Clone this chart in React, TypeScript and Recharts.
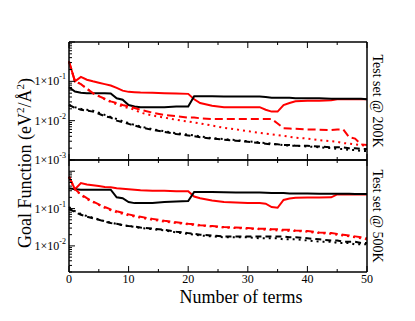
import React from 'react';
import { LineChart, Line, XAxis, YAxis } from 'recharts';

const FONT = "'Liberation Serif', 'DejaVu Serif', serif";

// number of terms (shared x grid)
const terms = [0, 1, 2, 3, 4, 5, 6, 7, 8, 9, 10, 11, 12, 14, 16, 18, 20, 21, 22, 24, 26, 28, 30, 32, 33, 34, 35, 36, 37, 38, 40, 42, 44, 45, 46, 47, 48, 49, 50];

// Test set @ 200K
const redSolid200 = [0.32, 0.1, 0.13, 0.11, 0.1, 0.092, 0.085, 0.078, 0.068, 0.058, 0.054, 0.053, 0.052, 0.051, 0.05, 0.049, 0.048, 0.035, 0.028, 0.024, 0.022, 0.022, 0.022, 0.022, 0.019, 0.017, 0.017, 0.025, 0.028, 0.031, 0.032, 0.032, 0.033, 0.035, 0.035, 0.035, 0.035, 0.035, 0.035];
const blackSolid200 = [0.071, 0.055, 0.051, 0.05, 0.05, 0.05, 0.05, 0.049, 0.037, 0.034, 0.025, 0.023, 0.022, 0.022, 0.022, 0.023, 0.023, 0.042, 0.042, 0.042, 0.041, 0.041, 0.041, 0.041, 0.04, 0.038, 0.038, 0.038, 0.038, 0.037, 0.037, 0.037, 0.036, 0.036, 0.036, 0.036, 0.036, 0.036, 0.035];
const redDashed200 = [0.32, 0.1, 0.085, 0.065, 0.05, 0.042, 0.036, 0.031, 0.028, 0.025, 0.023, 0.021, 0.019, 0.016, 0.014, 0.013, 0.012, 0.012, 0.0115, 0.011, 0.011, 0.011, 0.011, 0.011, 0.011, 0.011, 0.0085, 0.0064, 0.0063, 0.0062, 0.006, 0.0059, 0.0058, 0.006, 0.006, 0.0038, 0.0035, 0.0025, 0.0024];
const redDotted200 = [0.32, 0.1, 0.085, 0.065, 0.05, 0.042, 0.035, 0.03, 0.026, 0.023, 0.021, 0.019, 0.016, 0.0135, 0.012, 0.0105, 0.0095, 0.009, 0.0085, 0.0075, 0.0066, 0.006, 0.0054, 0.0049, 0.0047, 0.0045, 0.0043, 0.0041, 0.0039, 0.0037, 0.0035, 0.0032, 0.003, 0.0029, 0.0027, 0.0026, 0.0025, 0.0024, 0.0023];
const blackDashed200 = [0.025, 0.021, 0.019, 0.018, 0.017, 0.015, 0.013, 0.012, 0.01, 0.0092, 0.0083, 0.0075, 0.0068, 0.0058, 0.0052, 0.0046, 0.0042, 0.004, 0.0038, 0.0035, 0.0033, 0.0031, 0.0029, 0.0027, 0.0026, 0.0025, 0.0025, 0.0024, 0.0024, 0.0023, 0.0023, 0.0022, 0.0021, 0.0021, 0.0021, 0.002, 0.002, 0.0019, 0.0019];
const blackDotted200 = [0.025, 0.022, 0.02, 0.019, 0.018, 0.016, 0.014, 0.0125, 0.011, 0.0097, 0.0087, 0.0078, 0.0071, 0.0061, 0.0054, 0.0048, 0.0044, 0.0042, 0.004, 0.0036, 0.0034, 0.0032, 0.003, 0.0028, 0.0027, 0.0026, 0.0025, 0.0024, 0.0023, 0.0023, 0.0022, 0.0021, 0.002, 0.0019, 0.0019, 0.0018, 0.0018, 0.0017, 0.0017];

// Test set @ 500K
const redSolid500 = [0.71, 0.33, 0.48, 0.44, 0.42, 0.4, 0.38, 0.37, 0.35, 0.34, 0.33, 0.32, 0.31, 0.3, 0.3, 0.29, 0.29, 0.21, 0.19, 0.165, 0.15, 0.145, 0.14, 0.14, 0.135, 0.11, 0.105, 0.17, 0.185, 0.195, 0.197, 0.198, 0.2, 0.24, 0.24, 0.24, 0.24, 0.24, 0.24];
const blackSolid500 = [0.35, 0.33, 0.32, 0.32, 0.32, 0.32, 0.32, 0.32, 0.2, 0.19, 0.15, 0.14, 0.14, 0.14, 0.15, 0.155, 0.16, 0.28, 0.28, 0.28, 0.275, 0.27, 0.27, 0.27, 0.265, 0.26, 0.26, 0.26, 0.255, 0.255, 0.255, 0.25, 0.25, 0.25, 0.25, 0.248, 0.246, 0.245, 0.245];
const redDashed500 = [0.71, 0.33, 0.24, 0.19, 0.155, 0.13, 0.11, 0.095, 0.085, 0.077, 0.07, 0.064, 0.06, 0.053, 0.047, 0.043, 0.039, 0.038, 0.036, 0.034, 0.032, 0.031, 0.03, 0.029, 0.029, 0.028, 0.028, 0.027, 0.027, 0.026, 0.025, 0.023, 0.022, 0.021, 0.02, 0.019, 0.018, 0.017, 0.016];
const redDotted500 = [0.71, 0.33, 0.23, 0.18, 0.15, 0.125, 0.105, 0.09, 0.08, 0.073, 0.066, 0.061, 0.057, 0.05, 0.045, 0.041, 0.038, 0.036, 0.035, 0.033, 0.031, 0.03, 0.029, 0.028, 0.027, 0.027, 0.026, 0.026, 0.025, 0.025, 0.024, 0.022, 0.021, 0.02, 0.019, 0.018, 0.017, 0.016, 0.015];
const blackDashed500 = [0.1, 0.08, 0.068, 0.061, 0.055, 0.05, 0.045, 0.041, 0.039, 0.036, 0.034, 0.033, 0.031, 0.029, 0.027, 0.024, 0.022, 0.021, 0.02, 0.019, 0.018, 0.018, 0.018, 0.018, 0.018, 0.018, 0.018, 0.018, 0.017, 0.017, 0.016, 0.015, 0.014, 0.014, 0.013, 0.013, 0.013, 0.012, 0.012];
const blackDotted500 = [0.11, 0.085, 0.072, 0.063, 0.057, 0.051, 0.046, 0.042, 0.039, 0.036, 0.034, 0.032, 0.03, 0.028, 0.026, 0.023, 0.021, 0.02, 0.019, 0.018, 0.017, 0.017, 0.017, 0.016, 0.016, 0.016, 0.016, 0.015, 0.015, 0.015, 0.014, 0.013, 0.013, 0.012, 0.012, 0.012, 0.011, 0.011, 0.011];

// axes
const xTicks = [0, 5, 10, 15, 20, 25, 30, 35, 40, 45, 50];
const decades = [0.001, 0.01, 0.1, 1];
const minorSteps = [1, 2, 3, 4, 5, 6, 7, 8, 9];
const domain200: [number, number] = [0.001, 1];
const domain500: [number, number] = [0.002, 2];
const labelled200 = [-3, -2, -1];
const labelled500 = [-2, -1];

const logTicks = (lo: number, hi: number) => {
  const out: number[] = [];
  decades.forEach((d) =>
    minorSteps.forEach((m) => {
      const v = +(d * m).toPrecision(3);
      if (v >= lo - 1e-12 && v <= hi + 1e-12) out.push(v);
    })
  );
  return out;
};

const series = [
  { key: 'rs', color: '#ff0000', dash: undefined },
  { key: 'bs', color: '#000000', dash: undefined },
  { key: 'rd', color: '#ff0000', dash: '8 4' },
  { key: 'rdot', color: '#ff0000', dash: '2 4' },
  { key: 'bd', color: '#000000', dash: '6 4' },
  { key: 'bdot', color: '#000000', dash: '2 4' },
];

const rows200 = terms.map((t, i) => ({
  t,
  rs: redSolid200[i],
  bs: blackSolid200[i],
  rd: redDashed200[i],
  rdot: redDotted200[i],
  bd: blackDashed200[i],
  bdot: blackDotted200[i],
}));

const rows500 = terms.map((t, i) => ({
  t,
  rs: redSolid500[i],
  bs: blackSolid500[i],
  rd: redDashed500[i],
  rdot: redDotted500[i],
  bd: blackDashed500[i],
  bdot: blackDotted500[i],
}));

const YTick = (props: any) => {
  const { x, y, payload, labelled } = props;
  const v = payload.value;
  const lg = Math.log10(v);
  const e = Math.round(lg);
  const major = Math.abs(lg - e) < 1e-6;
  return (
    <g>
      <line x1={x} x2={x + (major ? 6 : 3)} y1={y} y2={y} stroke="#000" strokeWidth={1} />
      {major && labelled.includes(e) && (
        <text x={x - 3} y={y + 4} textAnchor="end" fontSize={12} fontFamily={FONT} fill="#000">
          1×10<tspan dy={-6} fontSize={8}>{String(e)}</tspan>
        </text>
      )}
    </g>
  );
};

const XTick = (props: any) => {
  const { x, y, payload, side, showLabel } = props;
  const v = payload.value;
  const major = v % 10 === 0;
  const dir = side === 'bottom' ? -1 : 1;
  return (
    <g>
      <line x1={x} x2={x} y1={y} y2={y + dir * (major ? 6 : 3)} stroke="#000" strokeWidth={1} />
      {showLabel && major && (
        <text x={x} y={y + 11} textAnchor="middle" fontSize={12} fontFamily={FONT} fill="#000">
          {v}
        </text>
      )}
    </g>
  );
};

const sideTitle = (text: string) => (props: any) => {
  const vb = props.viewBox;
  const cx = vb.x + 6;
  const cy = vb.y + vb.height / 2;
  return (
    <text x={cx} y={cy} transform={`rotate(90 ${cx} ${cy})`} textAnchor="middle" fontSize={14} fontFamily={FONT} fill="#000">
      {text}
    </text>
  );
};

const yTitle = () => (
  <text x={31} y={163} transform="rotate(-90 31 163)" textAnchor="middle" fontSize={18} fontFamily={FONT} fill="#000">
    Goal Function (eV<tspan dy={-7} fontSize={11}>2</tspan>
    <tspan dy={7}>/Å</tspan>
    <tspan dy={-7} fontSize={11}>2</tspan>
    <tspan dy={7}>)</tspan>
  </text>
);

const xTitle = (props: any) => {
  const vb = props.viewBox;
  return (
    <text x={vb.x + vb.width / 2 + 23} y={vb.y + 31} textAnchor="middle" fontSize={18} fontFamily={FONT} fill="#000">
      Number of terms
    </text>
  );
};

const axisLine = { stroke: '#000', strokeWidth: 1.5 };

const Panel = ({ rows, domain, labelled, margin, bottomLabels, title, yLabel }: any) => (
  <LineChart width={415} height={321} data={rows} margin={margin} style={{ position: 'absolute', left: 0, top: 0 }}>
    <XAxis
      dataKey="t"
      type="number"
      domain={[0, 50]}
      ticks={xTicks}
      interval={0}
      height={bottomLabels ? 30 : 1}
      axisLine={axisLine}
      tickLine={false}
      tickSize={0}
      tickMargin={0}
      tick={(p: any) => <XTick {...p} side="bottom" showLabel={bottomLabels} />}
      label={bottomLabels ? xTitle : undefined}
    />
    <XAxis
      xAxisId="top"
      orientation="top"
      dataKey="t"
      type="number"
      domain={[0, 50]}
      ticks={xTicks}
      interval={0}
      height={1}
      axisLine={axisLine}
      tickLine={false}
      tickSize={0}
      tickMargin={0}
      tick={(p: any) => <XTick {...p} side="top" showLabel={false} />}
    />
    <YAxis
      type="number"
      scale="log"
      domain={domain}
      allowDataOverflow
      ticks={logTicks(domain[0], domain[1])}
      interval={0}
      width={60}
      axisLine={axisLine}
      tickLine={false}
      tickSize={0}
      tickMargin={0}
      tick={(p: any) => <YTick {...p} labelled={labelled} />}
      label={yLabel ? yTitle : undefined}
    />
    <YAxis
      yAxisId="right"
      orientation="right"
      type="number"
      domain={[0, 1]}
      width={1}
      axisLine={axisLine}
      tick={false}
      tickLine={false}
      label={sideTitle(title)}
    />
    {series.map((s) => (
      <Line
        key={s.key}
        dataKey={s.key}
        type="linear"
        stroke={s.color}
        strokeWidth={2}
        strokeDasharray={s.dash}
        dot={false}
        activeDot={false}
        isAnimationActive={false}
      />
    ))}
  </LineChart>
);

export default function App() {
  return (
    <div style={{ position: 'absolute', left: 0, top: 0, width: 415, height: 321, background: '#fff' }}>
      <Panel
        rows={rows200}
        domain={domain200}
        labelled={labelled200}
        margin={{ top: 41, right: 47, bottom: 160, left: 9 }}
        bottomLabels={false}
        title="Test set @ 200K"
        yLabel
      />
      <Panel
        rows={rows500}
        domain={domain500}
        labelled={labelled500}
        margin={{ top: 159, right: 47, bottom: 19, left: 9 }}
        bottomLabels
        title="Test set @ 500K"
        yLabel={false}
      />
    </div>
  );
}
